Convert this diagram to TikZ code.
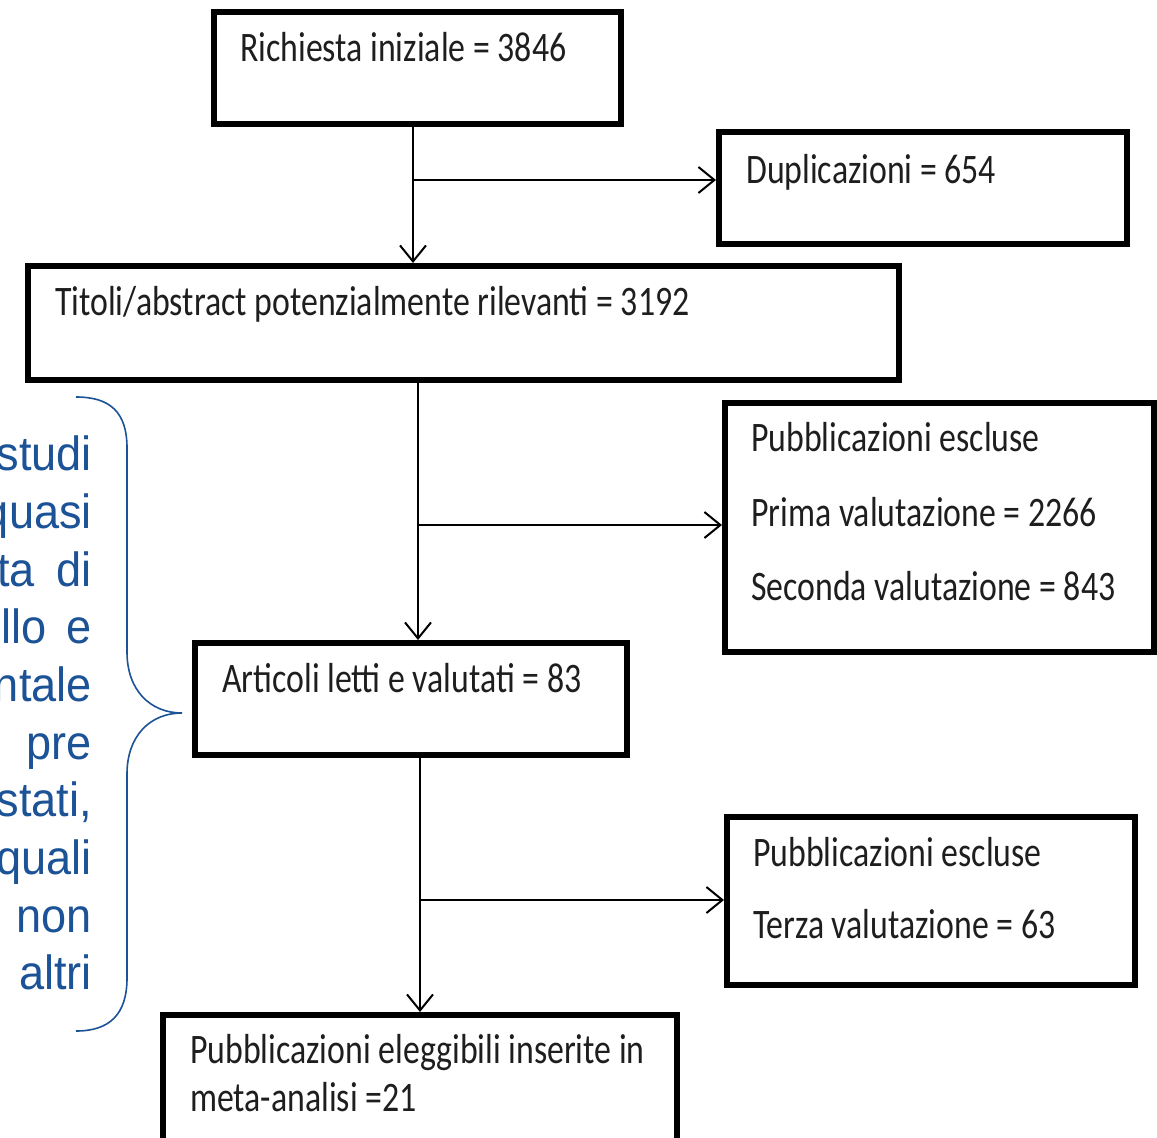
\documentclass[tikz,border=0pt]{standalone}
\usepackage{fontspec}
\usetikzlibrary{arrows.meta}
\newfontfamily\boxfont[FakeStretch=0.805]{Carlito}
\newfontfamily\sidefont[FakeStretch=0.94]{Liberation Sans}
\definecolor{sideblue}{RGB}{28,82,150}
\definecolor{boxtext}{RGB}{30,30,30}
\tikzset{
  flowbox/.style={draw=black, line width=6pt, inner sep=0pt, fill=white},
  boxtxt/.style={anchor=base west, inner sep=0pt, text=boxtext, font=\boxfont\fontsize{42}{48}\selectfont},
  sidetxt/.style={anchor=base east, inner sep=0pt, text=sideblue, font=\sidefont\fontsize{48}{56}\selectfont},
  arr/.style={line width=2pt, -{Straight Barb[length=16pt,width=26pt]}},
  bracestyle/.style={draw=sideblue, line width=1.6pt}
}
\begin{document}
\begin{tikzpicture}[x=1pt,y=-1pt]
\useasboundingbox (0,0) rectangle (1157,1138);

% boxes
\node[flowbox, minimum width=407pt, minimum height=112pt] (rich) at (417.5,68) {};
\node[flowbox, minimum width=408pt, minimum height=112pt] (dup) at (923,188) {};
\node[flowbox, minimum width=871pt, minimum height=114pt] (tit) at (463.5,323) {};
\node[flowbox, minimum width=429pt, minimum height=249pt] (ex1) at (939.5,527.5) {};
\node[flowbox, minimum width=432pt, minimum height=112pt] (art) at (411,699) {};
\node[flowbox, minimum width=408pt, minimum height=168pt] (ex2) at (931,901) {};
\node[flowbox, minimum width=514pt, minimum height=130pt] (fin) at (420,1080) {};

% texts
\node[boxtxt] (trich) at (240,61) {Richiesta iniziale = 3846};
\node[boxtxt] (tdup) at (746,183) {Duplicazioni = 654};
\node[boxtxt] (ttit) at (55,315) {Titoli/abstract potenzialmente rilevanti = 3192};
\node[boxtxt] (tex1a) at (751,451) {Pubblicazioni escluse};
\node[boxtxt] (tex1b) at (751,526) {Prima valutazione = 2266};
\node[boxtxt] (tex1c) at (751,600) {Seconda valutazione = 843};
\node[boxtxt] (tart) at (222,692) {Articoli letti e valutati = 83};
\node[boxtxt] (tex2a) at (753,866) {Pubblicazioni escluse};
\node[boxtxt] (tex2b) at (753,938) {Terza valutazione = 63};
\node[boxtxt] (tfina) at (190,1063) {Pubblicazioni eleggibili inserite in};
\node[boxtxt] (tfinb) at (190,1111) {meta-analisi =21};

% connectors
\coordinate (j1) at (413,180);
\coordinate (j2) at (418,525);
\coordinate (j3) at (420,900);
\draw[arr] (rich.south -| j1) -- (tit.north -| j1);
\draw[arr] (j1) -- (j1 -| dup.west);
\draw[arr] (tit.south -| j2) -- (art.north -| j2);
\draw[arr] (j2) -- (j2 -| ex1.west);
\draw[arr] (art.south -| j3) -- (fin.north -| j3);
\draw[arr] (j3) -- (j3 -| ex2.west);

% side text (cut at the left edge, as in the reference)
\node[sidetxt] (s1) at (92,470) {studi};
\node[sidetxt] (s2) at (92,528) {quasi};
\node[sidetxt] (s3) at (92,586) {ta\hspace{22pt}di};
\node[sidetxt] (s4) at (92,643) {llo\hspace{20pt}e};
\node[sidetxt] (s5) at (92,701) {ntale};
\node[sidetxt] (s6) at (92,759) {pre};
\node[sidetxt] (s7) at (92,816) {stati,};
\node[sidetxt] (s8) at (92,874) {quali};
\node[sidetxt] (s9) at (92,932) {non};
\node[sidetxt] (s10) at (92,989) {altri};

% brace
\draw[bracestyle] (76,397) .. controls (110,397) and (127,412) .. (127,448)
  -- (127,652) .. controls (127,690) and (150,713) .. (182,713)
  .. controls (150,713) and (127,736) .. (127,774)
  -- (127,978) .. controls (127,1014) and (110,1031) .. (76,1031);
\end{tikzpicture}
\end{document}
